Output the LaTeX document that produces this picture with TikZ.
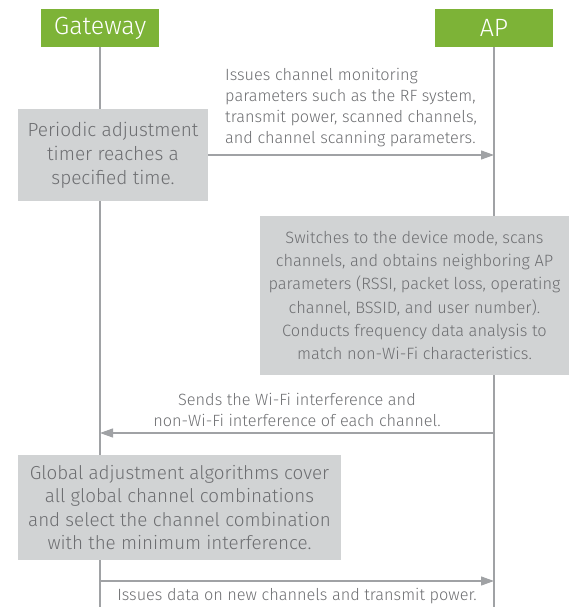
\documentclass[tikz,border=0pt]{standalone}
\usepackage{fontspec}
\IfFontExistsTF{Fira Sans Light}{\setmainfont{Fira Sans Light}}{\setmainfont{Fira Sans}}
\usetikzlibrary{arrows.meta,positioning}
\definecolor{hwgreen}{HTML}{7DB337}
\definecolor{txtgray}{HTML}{6D6E71}
\definecolor{boxgray}{HTML}{D1D3D4}
\definecolor{linegray}{HTML}{A0A2A5}
\tikzset{
  entity/.style={fill=hwgreen,text=white,minimum width=118pt,minimum height=38pt,
    inner sep=0pt,font=\fontsize{25}{28}\selectfont},
  note/.style={fill=boxgray,text=txtgray,inner sep=0pt,align=center,
    font=\fontsize{19}{24}\selectfont},
  msg/.style={draw=linegray,line width=1.2pt,-{Triangle[length=13pt,width=9pt]}},
  lbl/.style={text=txtgray,font=\fontsize{16.3}{21}\selectfont},
  life/.style={draw=linegray,line width=1.2pt}
}

\begin{document}
\begin{tikzpicture}[x=1pt,y=1pt]
      \useasboundingbox (0,0) rectangle (569,-607);

      % entities and lifelines
      \node[entity] (gw) at (100,-28) {Gateway};
      \node[entity] (ap) at (494,-28) {AP};
      \coordinate (gwend) at (100,-607);
      \coordinate (apend) at (494,-607);
      \draw[life] (gw) -- (gwend);
      \draw[life] (ap) -- (apend);

      % points on the lifelines
      \coordinate (ap1) at (494,-155);
      \coordinate (ap2) at (494,-433);
      \coordinate (gw2) at (100,-433);
      \coordinate (gw3) at (100,-581);
      \coordinate (ap3) at (494,-581);

      \node[note,minimum width=190pt,minimum height=91pt] (timer) at (113,-155)
        {Periodic adjustment\\timer reaches a\\specified time.};
      \node[note,minimum width=309pt,minimum height=159pt,
        font=\fontsize{16.4}{23.3}\selectfont] (scan) at (414.5,-295.5)
        {Switches to the device mode, scans\\channels, and obtains neighboring AP\\
         parameters (RSSI, packet loss, operating\\channel, BSSID, and user number).\\
         Conducts frequency data analysis to\\match non-Wi-Fi characteristics.};
      \node[note,minimum width=323pt,minimum height=105pt,
        font=\fontsize{18.8}{23.3}\selectfont] (global) at (179.5,-507.5)
        {Global adjustment algorithms cover\\all global channel combinations\\
         and select the channel combination\\with the minimum interference.};

      % messages
      \draw[msg] (timer) -- node[lbl,above=4pt,align=left]
        {Issues channel monitoring\\parameters such as the RF system,\\
         transmit power, scanned channels,\\and channel scanning parameters.} (ap1);
      \draw[msg] (ap2) -- node[lbl,above=2pt,align=center]
        {Sends the Wi-Fi interference and\\non-Wi-Fi interference of each channel.} (gw2);
      \draw[msg] (gw3) -- node[lbl,below=3pt]
        {Issues data on new channels and transmit power.} (ap3);
\end{tikzpicture}
\end{document}
